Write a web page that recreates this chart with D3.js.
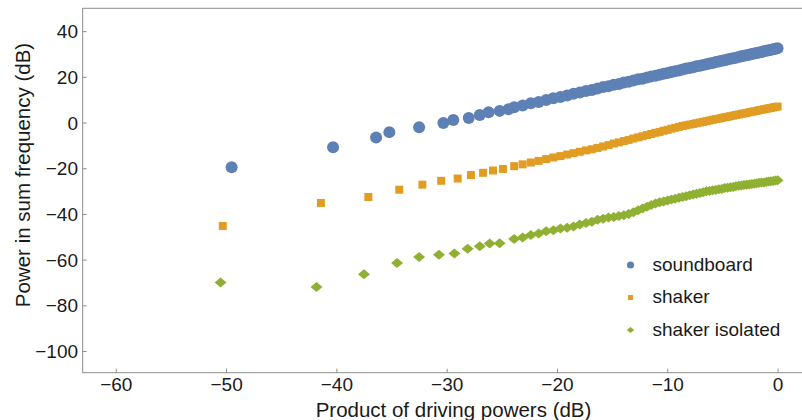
<!DOCTYPE html>
<html>
<head>
<meta charset="utf-8">
<script src="https://cdn.jsdelivr.net/npm/d3@7"></script>
<style>
  body { margin: 0; background: #fff; }
  text { font-family: "Liberation Sans", Arial, sans-serif; fill: #1a1a1a; }
</style>
</head>
<body>
<div id="chart"></div>
<script>
// DATA
var seriesNames = ["soundboard", "shaker", "shaker isolated"];

var xTicks = [-60, -50, -40, -30, -20, -10, 0];
var yTicks = [40, 20, 0, -20, -40, -60, -80, -100];

// sparse low-power points (each series has its own x)
var soundX = [-49.5, -40.3, -36.4, -35.2, -32.5, -30.3, -29.4, -28.0, -27.0, -26.2, -25.2, -24.4];
var soundY = [-19.6, -10.8, -6.6, -4.2, -2.1, -0.2, 1.1, 2.0, 3.3, 4.5, 5.1, 5.8];

var shakerX = [-50.3, -41.4, -37.1, -34.3, -32.2, -30.5, -29.0, -27.8, -26.7, -25.8, -24.9];
var shakerY = [-45.3, -35.2, -32.6, -29.4, -27.2, -25.5, -24.5, -23.0, -22.0, -21.0, -20.3];

var isoX = [-50.5, -41.8, -37.5, -34.5, -32.5, -30.7, -29.3, -28.1, -27.0, -26.1, -25.2];
var isoY = [-70.0, -72.0, -66.4, -61.5, -58.9, -57.9, -57.3, -55.3, -54.2, -52.9, -52.8];

// dense part, shared x positions
var denseX = [-23.88, -23.11, -22.37, -21.66, -20.98, -20.33, -19.69, -19.08, -18.50, -17.93,
  -17.37, -16.84, -16.32, -15.82, -15.33, -14.85, -14.39, -13.94, -13.50, -13.07,
  -12.65, -12.24, -11.84, -11.45, -11.07, -10.70, -10.33, -9.97, -9.62, -9.28,
  -8.94, -8.61, -8.29, -7.97, -7.65, -7.35, -7.04, -6.75, -6.45, -6.17,
  -5.89, -5.61, -5.33, -5.06, -4.80, -4.54, -4.28, -4.03, -3.78, -3.53,
  -3.29, -3.05, -2.81, -2.58, -2.35, -2.12, -1.90, -1.68, -1.46, -1.24,
  -1.03, -0.82, -0.61, -0.40, -0.20, 0];

var soundDenseY = [6.7, 7.5, 8.4, 9.0, 9.9, 10.6, 11.2, 11.8, 12.6, 13.1,
  13.8, 14.2, 14.9, 15.5, 15.9, 16.5, 16.9, 17.5, 17.9, 18.4,
  18.9, 19.2, 19.7, 20.2, 20.5, 20.9, 21.4, 21.7, 22.1, 22.5,
  22.8, 23.2, 23.6, 23.9, 24.2, 24.6, 24.9, 25.2, 25.5, 25.8,
  26.1, 26.5, 26.7, 27.0, 27.3, 27.6, 27.9, 28.1, 28.4, 28.7,
  29.0, 29.2, 29.5, 29.7, 30.0, 30.2, 30.4, 30.7, 30.9, 31.2,
  31.4, 31.6, 31.8, 32.1, 32.3, 32.5];

var shakerDenseY = [-19.1, -18.3, -17.5, -16.8, -16.0, -15.3, -14.7, -14.0, -13.4, -12.8,
  -12.2, -11.7, -11.1, -10.5, -9.9, -9.2, -8.7, -8.1, -7.6, -7.0,
  -6.5, -6.0, -5.5, -5.0, -4.5, -4.1, -3.6, -3.2, -2.7, -2.3,
  -1.9, -1.5, -1.2, -0.9, -0.6, -0.3, 0.0, 0.3, 0.6, 0.9,
  1.2, 1.5, 1.7, 2.0, 2.3, 2.5, 2.8, 3.0, 3.3, 3.5,
  3.8, 4.0, 4.2, 4.5, 4.7, 4.9, 5.1, 5.4, 5.6, 5.8,
  6.0, 6.2, 6.4, 6.6, 6.8, 7.0];

var isoDenseY = [-51.0, -50.3, -49.2, -48.6, -47.6, -47.2, -46.4, -46.1, -45.5, -44.6,
  -44.0, -43.4, -42.5, -42.1, -41.6, -41.4, -40.9, -40.6, -40.0, -39.3,
  -38.4, -37.6, -36.9, -36.1, -35.4, -34.9, -34.6, -34.1, -33.7, -33.4,
  -32.9, -32.6, -32.3, -31.8, -31.5, -31.2, -30.8, -30.5, -30.1, -30.0,
  -29.6, -29.5, -29.2, -29.1, -28.7, -28.6, -28.3, -28.2, -27.9, -27.7,
  -27.6, -27.3, -27.2, -27.1, -26.9, -26.8, -26.6, -26.4, -26.3, -26.2,
  -26.0, -25.8, -25.7, -25.6, -25.4, -25.3];

var colors = ["#5E81B5", "#E19C24", "#8FB032"];

var width = 802,
height = 420;

var margin = {left: 82.7, top: 8.3, right: 825, bottom: 372.7};

var svg = d3.select("#chart").append("svg")
  .attr("width", width)
  .attr("height", height);

var x = d3.scaleLinear().domain([-63, 4.3]).range([margin.left, margin.right]);
var y = d3.scaleLinear().domain([-109.5, 50]).range([margin.bottom, margin.top]);

//BUILD POINT LISTS
function zipPts(xs, ys) {
  return xs.map(function(d, i) { return {x: d, y: ys[i]}; });
}

var series = [
  zipPts(soundX, soundY).concat(zipPts(denseX, soundDenseY)),
  zipPts(shakerX, shakerY).concat(zipPts(denseX, shakerDenseY)),
  zipPts(isoX, isoY).concat(zipPts(denseX, isoDenseY))
];

//MARKER SHAPES
function marker(sel, k, s) {
  if (k === 0) {
    sel.append("circle").attr("r", 6 * s);
  } else if (k === 1) {
    sel.append("rect").attr("x", -4 * s).attr("y", -4 * s).attr("width", 8 * s).attr("height", 8 * s);
  } else {
    sel.append("path").attr("d", "M0," + (-5 * s) + "L" + (6 * s) + ",0L0," + (5 * s) + "L" + (-6 * s) + ",0Z");
  }
}

//DATA POINTS
var clip = svg.append("clipPath").attr("id", "plotclip")
  .append("rect")
  .attr("x", margin.left).attr("y", margin.top)
  .attr("width", margin.right - margin.left).attr("height", margin.bottom - margin.top);

var plot = svg.append("g").attr("clip-path", "url(#plotclip)");

series.forEach(function(pts, k) {
  plot.append("g")
    .attr("fill", colors[k])
    .selectAll("g")
    .data(pts)
    .enter().append("g")
    .attr("transform", function(d) { return "translate(" + x(d.x) + "," + y(d.y) + ")"; })
    .each(function() { marker(d3.select(this), k, 1); });
});

//FRAME + TICKS
svg.append("rect")
  .attr("x", margin.left).attr("y", margin.top)
  .attr("width", margin.right - margin.left).attr("height", margin.bottom - margin.top)
  .attr("fill", "none").attr("stroke", "#8c8c8c").attr("stroke-width", 1);

var xAxis = d3.axisBottom(x).tickValues(xTicks).tickSizeInner(-4).tickSizeOuter(0)
  .tickFormat(function(d) { return d3.format("")(d).replace("-", "\u2212"); });
var gx = svg.append("g").attr("transform", "translate(0," + margin.bottom + ")").call(xAxis);
gx.select(".domain").remove();
gx.selectAll("line").attr("stroke", "#8c8c8c");
gx.selectAll("text").attr("y", 18.5).attr("dy", 0).style("font-size", "19px").style("font-family", null).attr("fill", null);

var yAxis = d3.axisLeft(y).tickValues(yTicks).tickSizeInner(-4).tickSizeOuter(0)
  .tickFormat(function(d) { return d3.format("")(d).replace("-", "\u2212"); });
var gy = svg.append("g").attr("transform", "translate(" + margin.left + ",0)").call(yAxis);
gy.select(".domain").remove();
gy.selectAll("line").attr("stroke", "#8c8c8c");
gy.selectAll("text").attr("x", -4.7).attr("dy", "6.5").style("font-size", "19px").style("font-family", null).attr("fill", null);
gx.attr("font-family", null).attr("font-size", null);
gy.attr("font-family", null).attr("font-size", null);

//AXIS TITLES
svg.append("text")
  .attr("x", 453.5).attr("y", 417)
  .attr("text-anchor", "middle")
  .style("font-size", "20.5px")
  .text("Product of driving powers (dB)");

svg.append("text")
  .attr("transform", "translate(30,175) rotate(-90)")
  .attr("text-anchor", "middle")
  .style("font-size", "20.5px")
  .text("Power in sum frequency (dB)");

//LEGEND
var legend = svg.append("g").attr("transform", "translate(630.5,265)");
seriesNames.forEach(function(name, k) {
  var row = legend.append("g").attr("transform", "translate(0," + (k * 32.5) + ")");
  var m = row.append("g").attr("fill", colors[k]);
  marker(m, k, k === 0 ? 0.6 : 0.62);
  row.append("text")
    .attr("x", 22).attr("y", 5.7)
    .style("font-size", "19px")
    .text(name);
});
</script>
</body>
</html>
